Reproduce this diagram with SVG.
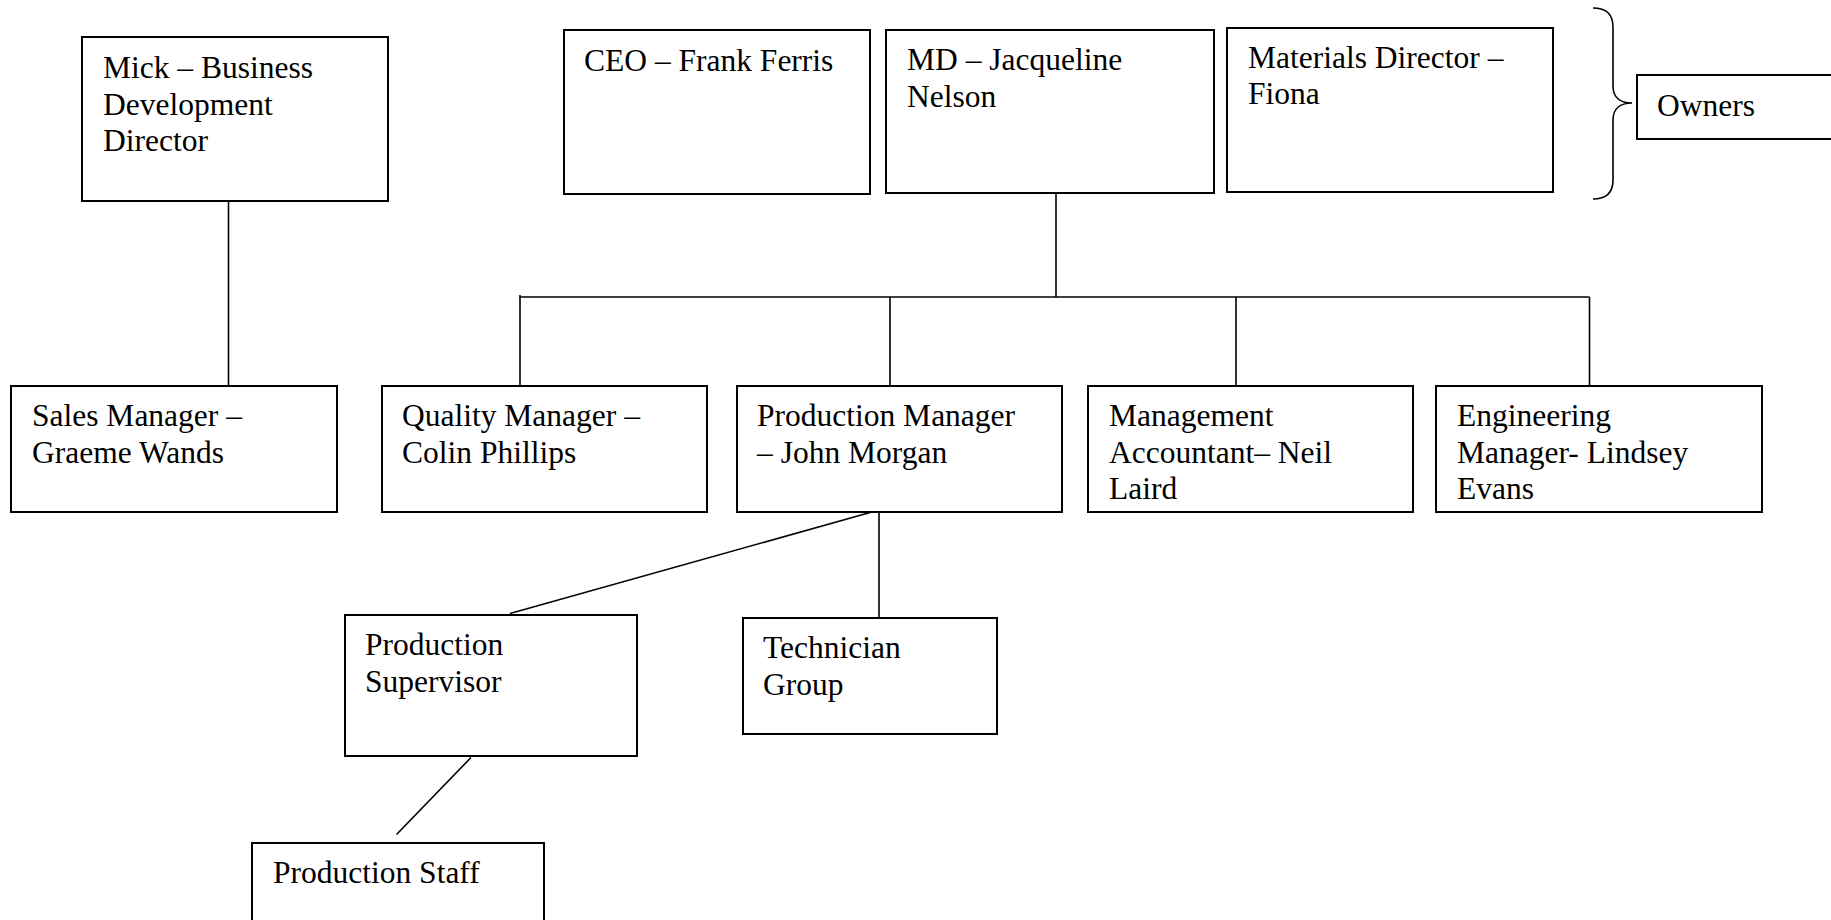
<svg xmlns="http://www.w3.org/2000/svg" width="1831" height="920" viewBox="0 0 1831 920">
<style>
.box{fill:#fff;stroke:#000;stroke-width:2}
.t{font-family:"Liberation Serif","Times New Roman",serif;font-size:31.5px;fill:#000}
.c{stroke:#000;stroke-width:1.6;fill:none}
</style>
<rect width="1831" height="920" fill="#fff"/>
<g id="connectors">
<line class="c" x1="228.5" y1="201" x2="228.5" y2="386"/>
<line class="c" x1="1056" y1="193" x2="1056" y2="297"/>
<line class="c" x1="519.5" y1="297" x2="1589.5" y2="297"/>
<line class="c" x1="520" y1="295" x2="520" y2="386"/>
<line class="c" x1="890" y1="297" x2="890" y2="386"/>
<line class="c" x1="1236" y1="297" x2="1236" y2="386"/>
<line class="c" x1="1589.5" y1="297" x2="1589.5" y2="386"/>
<line class="c" x1="879" y1="510" x2="510" y2="613.5"/>
<line class="c" x1="879" y1="510" x2="879" y2="618"/>
<line class="c" x1="471" y1="757.5" x2="396.5" y2="834.5"/>
<path class="c" d="M1593,8 C1606,8 1613,14 1613,27 L1613,86 C1613,97 1620,103 1632,103 C1620,103 1613,109 1613,120 L1613,180 C1613,193 1606,199 1593,199"/>
</g>
<g id="mick"><rect class="box" x="82" y="37" width="306" height="164"/><text class="t"><tspan x="103" y="78">Mick – Business</tspan><tspan x="103" y="114.7">Development</tspan><tspan x="103" y="151.4">Director</tspan></text></g>
<g id="ceo"><rect class="box" x="564" y="30" width="306" height="164"/><text class="t" x="584" y="70.7">CEO – Frank Ferris</text></g>
<g id="md"><rect class="box" x="886" y="30" width="328" height="163"/><text class="t"><tspan x="907" y="70">MD – Jacqueline</tspan><tspan x="907" y="106.7">Nelson</tspan></text></g>
<g id="materials"><rect class="box" x="1227" y="28" width="326" height="164"/><text class="t"><tspan x="1248" y="67.7">Materials Director –</tspan><tspan x="1248" y="104.3">Fiona</tspan></text></g>
<g id="owners"><rect class="box" x="1637" y="75" width="220" height="64"/><text class="t" x="1657" y="115.7">Owners</text></g>
<g id="sales"><rect class="box" x="11" y="386" width="326" height="126"/><text class="t"><tspan x="32" y="426">Sales Manager –</tspan><tspan x="32" y="462.7">Graeme Wands</tspan></text></g>
<g id="quality"><rect class="box" x="382" y="386" width="325" height="126"/><text class="t"><tspan x="402" y="426">Quality Manager –</tspan><tspan x="402" y="462.7">Colin Phillips</tspan></text></g>
<g id="production-manager"><rect class="box" x="737" y="386" width="325" height="126"/><text class="t"><tspan x="757" y="426">Production Manager</tspan><tspan x="757" y="462.7">– John Morgan</tspan></text></g>
<g id="management-accountant"><rect class="box" x="1088" y="386" width="325" height="126"/><text class="t"><tspan x="1109" y="426">Management</tspan><tspan x="1109" y="462.7">Accountant– Neil</tspan><tspan x="1109" y="499.3">Laird</tspan></text></g>
<g id="engineering"><rect class="box" x="1436" y="386" width="326" height="126"/><text class="t"><tspan x="1457" y="426">Engineering</tspan><tspan x="1457" y="462.7">Manager- Lindsey</tspan><tspan x="1457" y="499.3">Evans</tspan></text></g>
<g id="supervisor"><rect class="box" x="345" y="615" width="292" height="141"/><text class="t"><tspan x="365" y="655">Production</tspan><tspan x="365" y="691.7">Supervisor</tspan></text></g>
<g id="technician"><rect class="box" x="743" y="618" width="254" height="116"/><text class="t"><tspan x="763" y="657.7">Technician</tspan><tspan x="763" y="695">Group</tspan></text></g>
<g id="staff"><rect class="box" x="252" y="843" width="292" height="100"/><text class="t" x="273" y="883.3">Production Staff</text></g>
</svg>
